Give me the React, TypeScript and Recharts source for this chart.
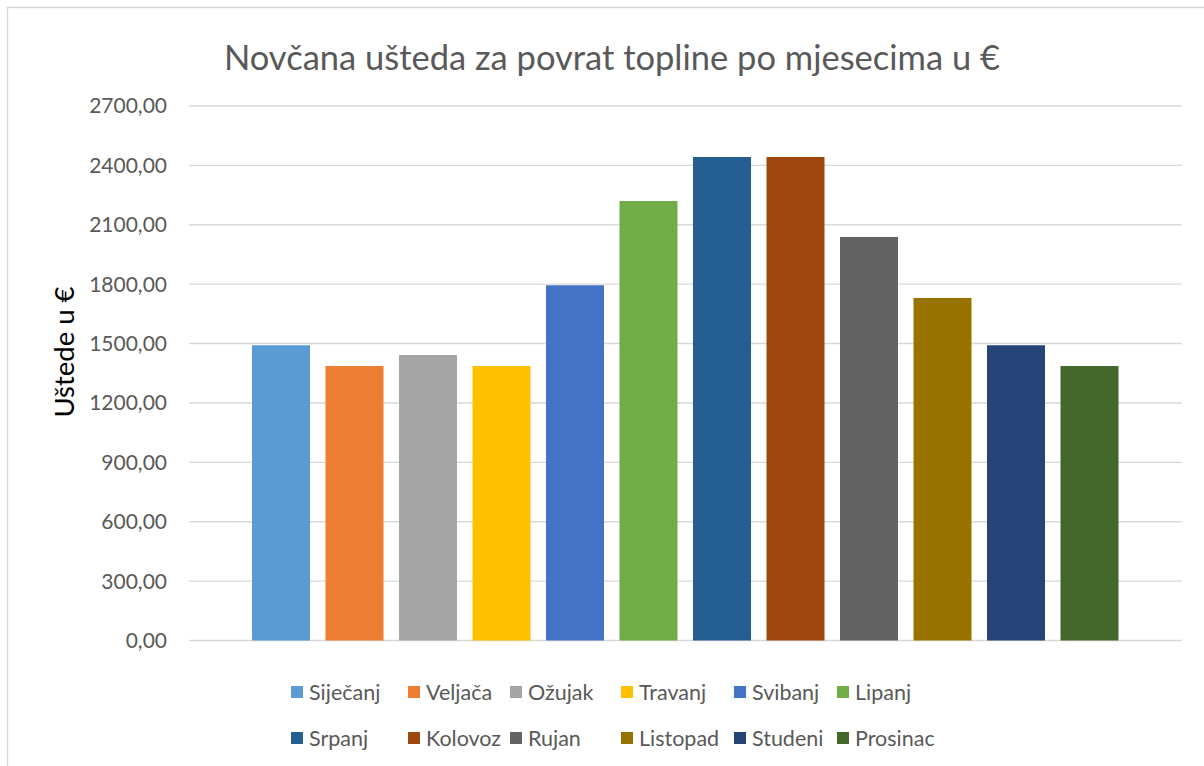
import React from 'react';
import { BarChart, Bar, XAxis, YAxis, CartesianGrid } from 'recharts';

const months = ['Siječanj', 'Veljača', 'Ožujak', 'Travanj', 'Svibanj', 'Lipanj', 'Srpanj', 'Kolovoz', 'Rujan', 'Listopad', 'Studeni', 'Prosinac'];
const savings = [1492, 1386, 1442, 1386, 1795, 2220, 2442, 2442, 2038, 1730, 1492, 1386];
const colors = ['#5B9BD5', '#ED7D31', '#A5A5A5', '#FFC000', '#4472C4', '#70AD47', '#255E91', '#9E480E', '#636363', '#997300', '#264478', '#43682B'];
const yTicks = [0, 300, 600, 900, 1200, 1500, 1800, 2100, 2400, 2700];
const title = 'Novčana ušteda za povrat topline po mjesecima u €';
const yLabel = 'Uštede u €';

const row: Record<string, number | string> = { name: '' };
months.forEach((m, i) => { row[m] = savings[i]; });
const data = [row];

const FONT = 'Lato, "Open Sans", sans-serif';
const TEXT = '#595959';
const legendCols = [291, 408, 510, 621, 734, 837];
const legendRows = [692, 738];

export default function App() {
  return (
    <div style={{ position: 'absolute', left: 0, top: 0, width: 1204, height: 766, overflow: 'hidden', background: '#fff', fontFamily: FONT }}>
      <BarChart
        width={1204}
        height={766}
        data={data}
        margin={{ top: 106, right: 22, bottom: 125.5, left: 0 }}
        barSize={58}
        barGap={15.5}
      >
        <CartesianGrid vertical={false} stroke="#D9D9D9" strokeWidth={1.4} />
        <XAxis dataKey="name" hide />
        <YAxis
          width={189}
          domain={[0, 2700]}
          ticks={yTicks}
          interval={0}
          axisLine={false}
          tickLine={false}
          tickSize={6}
          tickMargin={16}
          tickFormatter={(v: number) => v.toFixed(2).replace('.', ',')}
          tick={{ fill: TEXT, fontSize: 21, fontFamily: FONT }}
        />
        {months.map((m, i) => (
          <Bar key={m} dataKey={m} fill={colors[i]} isAnimationActive={false} />
        ))}
      </BarChart>
      <svg width={1204} height={766} style={{ position: 'absolute', left: 0, top: 0, pointerEvents: 'none' }}>
        <rect x={7.5} y={7.5} width={1400} height={1000} fill="none" stroke="#D9D9D9" strokeWidth={1.4} />
        <text x={612} y={70} textAnchor="middle" fill={TEXT} fontSize={34.5} fontFamily={FONT}>{title}</text>
        <text x={63} y={352} transform="rotate(-90 63 352)" textAnchor="middle" dominantBaseline="central" fill="#000" fontSize={27.5} fontFamily={FONT}>{yLabel}</text>
      </svg>
      {months.map((m, i) => {
        const col = i % 6;
        const r = Math.floor(i / 6);
        return (
          <div key={m} style={{ position: 'absolute', left: legendCols[col], top: legendRows[r] - 13, height: 26, display: 'flex', alignItems: 'center', whiteSpace: 'nowrap' }}>
            <span style={{ display: 'inline-block', width: 12, height: 12, background: colors[i], marginRight: 6 }} />
            <span style={{ color: TEXT, fontSize: 21.5, fontFamily: FONT }}>{m}</span>
          </div>
        );
      })}
    </div>
  );
}
